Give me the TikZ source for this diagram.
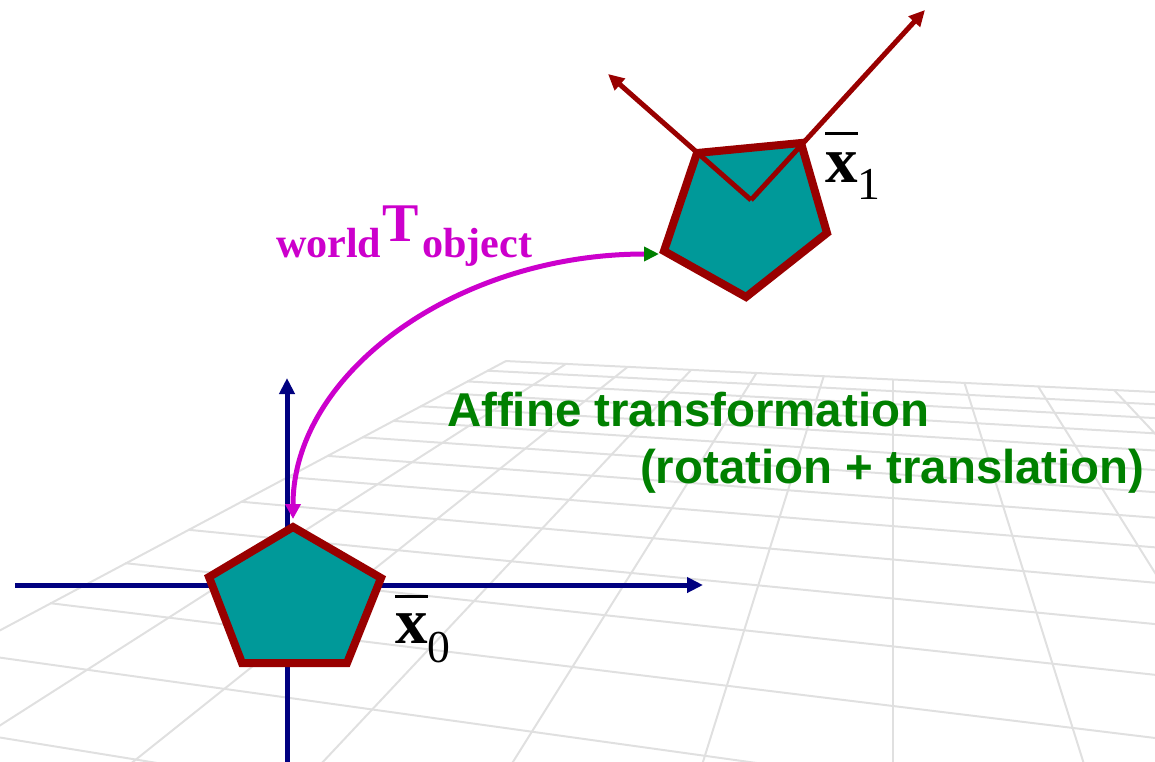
\documentclass[tikz,border=0pt]{standalone}
\usepackage{fontspec}
\setmainfont{Liberation Serif}
\newfontfamily\arialfont{Liberation Sans}
\usetikzlibrary{arrows.meta,calc}
\definecolor{tealfill}{RGB}{0,153,153}
\definecolor{darkred}{RGB}{153,0,0}
\definecolor{navyblue}{RGB}{0,0,128}
\definecolor{magentac}{RGB}{204,0,204}
\definecolor{greenc}{RGB}{0,128,0}
\definecolor{gridc}{RGB}{224,224,224}
\newcommand\barxbold[1]{\setbox0\hbox{\bfseries x}\rlap{\raisebox{#1}{\rule{\wd0}{2pt}}}\box0}
\begin{document}
\begin{tikzpicture}[x=0.02cm,y=-0.02cm,
  gridline/.style={draw=gridc, line width=0.04cm},
  penta/.style={draw=darkred, fill=tealfill, line width=0.16cm, line join=miter},
  blueaxis/.style={draw=navyblue, line width=0.1cm, -{Triangle[length=0.32cm,width=0.3cm]}},
  redaxis/.style={draw=darkred, line width=0.1cm, -{Triangle[length=0.32cm,width=0.3cm]}},
  transfo/.style={draw=magentac, line width=0.1cm,
    {Triangle[color=greenc,length=0.3cm,width=0.28cm]}-{Triangle[length=0.3cm,width=0.3cm]}},
  lbl/.style={anchor=base west, inner sep=0pt, outer sep=0pt},
  magtxt/.style={lbl, text=magentac},
  greentxt/.style={lbl, text=greenc, font=\arialfont\bfseries\fontsize{27}{27}\selectfont},
  xlbl/.style={lbl, text=black, font=\fontsize{37}{40}\selectfont}]
\useasboundingbox (0,0) rectangle (1155,761);
% perspective floor grid
\begin{scope}
\clip (0,0) rectangle (1155,761);
\foreach \yj in {379.5,391.1,404.1,418.5,434.7,453.1,474.0,498.1,526.1,559.5,598.5,646.4,706.0,782.0,882.3}{
  \pgfmathsetmacro\sj{(\yj-170)/4393}
  \pgfmathsetmacro\yi{155+(\yj-155)/(1+1.8812*\sj)}
  \pgfmathsetmacro\xi{893-1.8812*(\yi-155)}
  \pgfmathsetmacro\ye{\yj+\sj*307}
  \draw[gridline] (\xi,\yi) -- (1200,\ye);
}
\foreach \k in {-6,...,4}{
  \pgfmathsetmacro\mk{190*\k/606}
  \pgfmathsetmacro\yt{155+224.5/(1-0.04769*\mk)}
  \pgfmathsetmacro\xt{893+\mk*(\yt-155)}
  \pgfmathsetmacro\xb{893+\mk*645}
  \draw[gridline] (\xt,\yt) -- (\xb,800);
}
\end{scope}
% world axes
\coordinate (hx0) at (15,585);
\coordinate (hx1) at (703,585);
\coordinate (vy0) at (287,770);
\coordinate (vy1) at (287,378);
\draw[blueaxis] (hx0) -- (hx1);
\draw[blueaxis] (vy0) -- (vy1);
% pentagon at origin
\coordinate (p0t) at (293,527);
\coordinate (p0r) at (381,578);
\coordinate (p0br) at (347,663);
\coordinate (p0bl) at (242,663);
\coordinate (p0l) at (209,577);
\draw[penta] (p0t) -- (p0r) -- (p0br) -- (p0bl) -- (p0l) -- cycle;
% transformed pentagon
\coordinate (p1tl) at (697,153);
\coordinate (p1tr) at (801,143);
\coordinate (p1r) at (827,233);
\coordinate (p1b) at (746,297);
\coordinate (p1l) at (664,251);
\draw[penta] (p1tl) -- (p1tr) -- (p1r) -- (p1b) -- (p1l) -- cycle;
% object frame
\coordinate (o1) at (751,200);
\coordinate (ax1) at (608,74);
\coordinate (ax2) at (925,10);
\draw[redaxis] (o1) -- (ax1);
\draw[redaxis] (o1) -- (ax2);
% transformation arrow
\coordinate (tS) at (659,254);
\coordinate (tE) at (293,519);
\draw[transfo] (tS) .. controls (457,254) and (293,373) .. (tE);
% labels
\node[magtxt, font=\bfseries\fontsize{24}{24}\selectfont] (world) at (276,257) {world};
\node[magtxt, font=\bfseries\fontsize{31}{31}\selectfont] (T) at (382,241) {T};
\node[magtxt, font=\bfseries\fontsize{24}{24}\selectfont] (object) at (422,257) {object};
\node[greentxt] (affine) at (447,426) {Affine transformation};
\node[greentxt] (rot) at (640,483) {(rotation + translation)};
\node[xlbl] (x1) at (825,182) {\barxbold{26.5pt}\raisebox{-10pt}{\fontsize{26}{26}\selectfont 1}};
\node[xlbl] (x0) at (395,643) {\barxbold{25.5pt}\raisebox{-11pt}{\fontsize{26}{26}\selectfont 0}};
\end{tikzpicture}
\end{document}
